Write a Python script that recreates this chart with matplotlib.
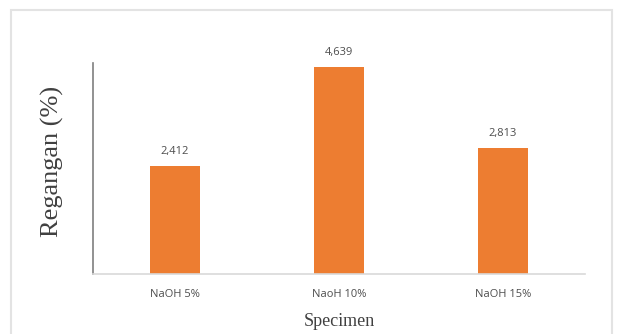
import matplotlib
matplotlib.use("Agg")
import matplotlib.pyplot as plt
from matplotlib.patches import Rectangle

# Strain per NaOH concentration
categories = ["NaOH 5%", "NaoH 10%", "NaOH 15%"]
strain = [2.412, 4.639, 2.813]
value_labels = ["2,412", "4,639", "2,813"]

fig = plt.figure(figsize=(6.17, 3.34), dpi=100)
fig.patch.set_facecolor("white")

# light outer frame of the chart area
W, H = 617, 334
frame = Rectangle((11 / W, -0.05), (612 - 11) / W, 1 - 10 / H + 0.05,
                  transform=fig.transFigure, fill=False,
                  edgecolor="#e3e3e3", linewidth=1.5)
fig.patches.append(frame)

ax = fig.add_axes([93 / W, 1 - 274 / H, (585 - 93) / W, (274 - 63) / H])
x = range(len(categories))
bars = ax.bar(x, strain, width=0.31, color="#ED7D31")

ax.set_xlim(-0.5, 2.5)
ax.set_ylim(0, 4.72)

text_grey = "#4d4d4d"
for b, lab in zip(bars, value_labels):
    ax.annotate(lab, (b.get_x() + b.get_width() / 2, b.get_height()),
                xytext=(0, 6.5), textcoords="offset points",
                ha="center", va="bottom", fontsize=8,
                family="Open Sans", color=text_grey)

ax.set_xticks(list(x))
ax.set_xticklabels(categories, family="Open Sans", fontsize=8, color=text_grey)
ax.set_yticks([])
ax.tick_params(axis="x", length=0, pad=10.5)

for s in ("top", "right"):
    ax.spines[s].set_visible(False)
ax.spines["left"].set_color("#7f7f7f")
ax.spines["left"].set_linewidth(1.2)
ax.spines["bottom"].set_color("#d9d9d9")
ax.spines["bottom"].set_linewidth(1.2)

# axis titles placed in figure pixel coordinates
fig.text(52 / W, 1 - 161 / H, "Regangan (%)", family="Liberation Serif",
         fontsize=19, color="#404040", rotation=90, ha="center", va="center")
fig.text(339 / W, 1 - 322 / H, "Specimen", family="Liberation Serif",
         fontsize=13, color="#404040", ha="center", va="center")

fig.savefig("out.png", dpi=100)
